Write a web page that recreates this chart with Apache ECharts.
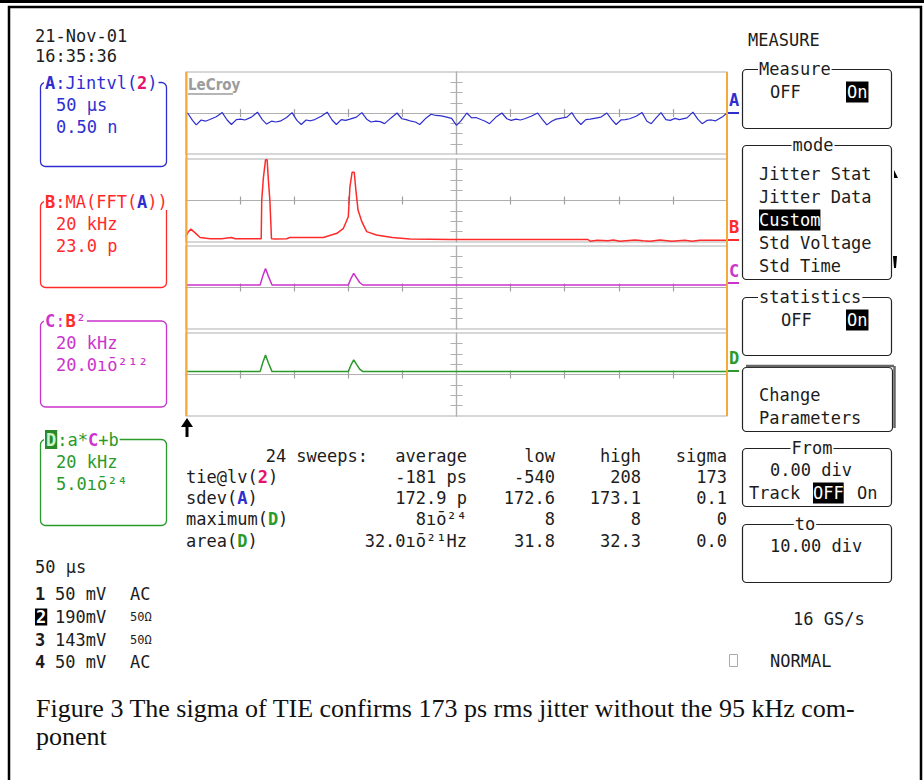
<!DOCTYPE html>
<html><head><meta charset="utf-8">
<script src="https://cdn.jsdelivr.net/npm/echarts@6/dist/echarts.min.js"></script>
<style>html,body{margin:0;padding:0;background:#fff}#c{width:924px;height:780px}</style>
</head><body><div id="c"></div>
<script>
// ---- trace data: [time in divisions from screen centre, amplitude in divisions from panel centre]
const traceA = [
[-5.00,-0.03],[-4.97,0.00],[-4.88,-0.18],[-4.81,-0.29],[-4.72,-0.17],[-4.64,-0.20],[-4.56,-0.16],[-4.44,-0.09],
[-4.33,0.01],[-4.24,-0.17],[-4.16,-0.28],[-4.07,-0.16],[-3.99,-0.15],[-3.91,-0.17],[-3.79,-0.10],
[-3.68,0.02],[-3.59,-0.16],[-3.51,-0.27],[-3.42,-0.20],[-3.34,-0.22],[-3.26,-0.20],[-3.14,-0.11],
[-3.04,0.01],[-2.95,-0.18],[-2.87,-0.28],[-2.78,-0.17],[-2.70,-0.19],[-2.62,-0.16],[-2.50,-0.08],
[-2.39,0.02],[-2.30,-0.17],[-2.22,-0.28],[-2.13,-0.16],[-2.05,-0.18],[-1.97,-0.15],[-1.85,-0.10],
[-1.75,0.01],[-1.66,-0.15],[-1.58,-0.22],[-1.49,-0.20],[-1.41,-0.21],[-1.33,-0.26],[-1.21,-0.12],
[-1.10,0.00],[-1.01,-0.14],[-0.93,-0.16],[-0.84,-0.20],[-0.76,-0.22],[-0.68,-0.28],[-0.56,-0.12],
[-0.47,-0.03],[-0.38,-0.06],[-0.28,-0.07],[-0.18,-0.10],[-0.09,-0.13],[0.00,-0.30],[0.09,-0.18],
[0.19,0.00],[0.28,-0.12],[0.36,-0.11],[0.45,-0.16],[0.53,-0.20],[0.61,-0.26],[0.73,-0.10],
[0.84,0.00],[0.93,-0.14],[1.01,-0.18],[1.10,-0.15],[1.18,-0.17],[1.26,-0.14],[1.38,-0.08],
[1.50,0.00],[1.59,-0.16],[1.67,-0.29],[1.76,-0.20],[1.84,-0.15],[1.92,-0.13],[2.04,-0.10],
[2.13,0.01],[2.22,-0.17],[2.30,-0.28],[2.39,-0.16],[2.47,-0.15],[2.55,-0.13],[2.67,-0.10],
[2.78,0.00],[2.87,-0.16],[2.95,-0.28],[3.04,-0.17],[3.12,-0.16],[3.20,-0.14],[3.32,-0.08],
[3.43,0.01],[3.52,-0.20],[3.60,-0.26],[3.69,-0.12],[3.78,0.01],[3.87,-0.16],[3.95,-0.18],[4.04,-0.13],[4.12,-0.16],[4.26,-0.12],
[4.37,0.02],[4.46,-0.15],[4.54,-0.26],[4.63,-0.18],[4.71,-0.17],[4.79,-0.19],[4.91,-0.10],[5.00,0.00]
];
const traceB = [
[-5.00,-0.87],[-4.96,-0.76],[-4.91,-0.69],[-4.83,-0.78],[-4.74,-0.89],[-4.55,-0.92],[-4.34,-0.92],[-4.16,-0.89],[-4.09,-0.92],
[-3.61,-0.92],[-3.60,0.01],[-3.57,0.54],[-3.53,0.98],[-3.50,0.98],[-3.48,0.54],[-3.45,0.01],[-3.42,-0.92],
[-3.35,-0.93],[-3.14,-0.92],[-3.08,-0.89],[-2.46,-0.89],[-2.21,-0.79],[-2.09,-0.67],[-2.00,-0.39],[-1.97,0.33],
[-1.93,0.68],[-1.89,0.68],[-1.86,0.25],[-1.82,-0.23],[-1.75,-0.51],[-1.66,-0.75],[-1.48,-0.83],[-1.19,-0.89],
[-0.86,-0.93],[-0.12,-0.94],[0.80,-0.94],[2.43,-0.94],[2.47,-0.98],[2.60,-0.96],[2.80,-0.97],[2.90,-0.95],
[3.02,-0.98],[3.30,-0.95],[3.45,-0.97],[3.58,-0.98],[3.76,-0.95],[3.98,-0.98],[4.22,-0.96],[4.35,-0.98],[4.50,-0.96],[5.00,-0.96]
];
const traceC = [
[-5.00,0.06],[-3.63,0.06],[-3.58,0.28],[-3.53,0.46],[-3.48,0.28],[-3.41,0.06],
[-2.00,0.06],[-1.95,0.22],[-1.90,0.34],[-1.85,0.24],[-1.79,0.12],[-1.73,0.06],[5.00,0.06]
];
const traceD = [
[-5.00,0.07],[-3.63,0.07],[-3.58,0.29],[-3.53,0.47],[-3.48,0.29],[-3.41,0.07],
[-2.00,0.07],[-1.95,0.23],[-1.90,0.35],[-1.85,0.25],[-1.79,0.13],[-1.73,0.07],[5.00,0.07]
];
const xTickDivs = [-4,-3,-2,-1,1,2,3,4];
const yTickDivs = [-0.75,-0.5,-0.25,0.25,0.5,0.75];

// ---- measurement table
const measHeader = ['24 sweeps:','average','low','high','sigma'];
const measParam = ['tie@lv','sdev','maximum','area'];
const measSource = ['2','A','D','D'];
const measAverage = ['-181 ps','172.9 p','8ıō²⁴','32.0ıō²¹Hz'];
const measLow = ['-540','172.6','8','31.8'];
const measHigh = ['208','173.1','8','32.3'];
const measSigma = ['173','0.1','0','0.0'];

// ---- channel readouts
const chanNum = ['1','2','3','4'];
const chanScale = ['50 mV','190mV','143mV','50 mV'];
const chanCoupling = ['AC','50Ω','50Ω','AC'];

const BLUE='#2e2ed0', RED='#ff2a2a', MAG='#cc33cc', GREEN='#2a9a2a', PINK='#e8126e';
const GRAY='#b0b0b0', ORANGE='#f2aa3a', INK='#1c1c1c';
const MONO='"DejaVu Sans Mono", monospace';
const F='17px '+MONO, FB='bold 17px '+MONO;

const chart = echarts.init(document.getElementById('c'), null, {renderer:'svg'});

const panels = [
  {top:72, height:82, data:traceA, color:BLUE, width:1.2},
  {top:159, height:83, data:traceB, color:RED, width:1.5},
  {top:246, height:83, data:traceC, color:MAG, width:1.5},
  {top:333, height:83, data:traceD, color:GREEN, width:1.5}
];
const grid=[], xAxis=[], yAxis=[], series=[];
panels.forEach((p,i)=>{
  grid.push({left:186, width:541, top:p.top, height:p.height, show:true, borderColor:GRAY, borderWidth:1.2, backgroundColor:'rgba(0,0,0,0)'});
  ['bottom','top'].forEach((pos,k)=>{
    xAxis.push({gridIndex:i, type:'value', min:-5, max:5, interval:1, position:pos,
      axisLine:{show:true, onZero:true, onZeroAxisIndex:2*i+k, lineStyle:{color:GRAY, width:1.2}},
      axisTick:{show:true, inside:true, length:4, customValues:xTickDivs, lineStyle:{color:'#a0a0a0', width:1.2}},
      axisLabel:{show:false}, splitLine:{show:false}});
  });
  ['left','right'].forEach((pos,k)=>{
    yAxis.push({gridIndex:i, type:'value', min:-1, max:1, interval:0.25, position:pos,
      axisLine:{show:true, onZero:true, onZeroAxisIndex:2*i+k, lineStyle:{color:GRAY, width:1.2}},
      axisTick:{show:true, inside:true, length:6, customValues:yTickDivs, lineStyle:{color:GRAY, width:1}},
      axisLabel:{show:false}, splitLine:{show:false}});
  });
  series.push({type:'line', xAxisIndex:2*i, yAxisIndex:2*i, data:p.data, showSymbol:false, symbol:'none',
    lineStyle:{color:p.color, width:p.width}, itemStyle:{color:p.color}, z:5, animation:false});
});

function T(x,y,text,o){o=o||{};
  const st={text:text, font:o.font||F, fill:o.fill||INK, align:o.align||'left', verticalAlign:'middle',
    textAlign:o.align||'left', textVerticalAlign:'middle'};
  if(o.rich) st.rich=o.rich;
  if(o.bg){st.backgroundColor=o.bg; st.padding=o.pad||[1,1];}
  return {type:'text', x:x, y:y, z:30, silent:true, style:st};
}
function R(x,y,w,h,color,r,lw){return {type:'rect', z:20, silent:true, shape:{x:x,y:y,width:w,height:h,r:r==null?5:r}, style:{fill:'none', stroke:color, lineWidth:lw||1.2}};}
function L(x1,y1,x2,y2,color,lw){return {type:'line', z:22, silent:true, shape:{x1:x1,y1:y1,x2:x2,y2:y2}, style:{stroke:color, lineWidth:lw||1}};}
function P(points,color){return {type:'polygon', z:22, silent:true, shape:{points:points}, style:{fill:color}};}
const tok = (c,font,bg)=>{const t={font:font||FB, fill:c}; if(bg){t.backgroundColor=bg; t.padding=[1,1];} return t;};
const RICH = {a:tok(BLUE), b:tok(RED), c:tok(MAG), d:tok(GREEN), p:tok(PINK), di:tok('#c8f5c8',FB,'#2a8a2a'),
  inv:tok('#fff',FB,'#000'), n:tok(INK)};

const G = [];
// outer frame
G.push(L(0,1.5,924,1.5,'#000',3));
G.push({type:'rect', z:20, silent:true, shape:{x:9,y:7,width:912,height:800}, style:{fill:'none', stroke:'#000', lineWidth:2.5}});
// orange graticule edges
G.push(L(186.5,72,186.5,416,ORANGE,2));
G.push(L(727,72,727,416,ORANGE,2));
// LeCroy logo
G.push(T(188,85,'LeCroy',{font:'bold 15px "DejaVu Sans Condensed", "DejaVu Sans", sans-serif', fill:'#9c9c9c'}));
G.push(L(188,94,233,94,'#9c9c9c',1.5));
// trace markers at right edge
[['A',BLUE,100,113],['B',RED,227,240],['C',MAG,271,283],['D',GREEN,358,371]].forEach(m=>{
  G.push(T(729,m[2],m[0],{font:FB, fill:m[1]}));
  G.push(L(728,m[3],739,m[3],m[1],2));
});
// trigger arrow
G.push(L(187,437,187,424,'#000',3));
G.push(P([[181,427],[193,427],[187,418]],'#000'));

// date / time
G.push(T(35,36,'21-Nov-01'));
G.push(T(35,56,'16:35:36'));

// left trace boxes
const boxes = [
  {y:82.5, h:84, color:BLUE, title:'{a|A}:Jintvl({p|2})', lines:['50 µs','0.50 n']},
  {y:201.5, h:86, color:RED, title:'{b|B}:MA(FFT({a|A}))', lines:['20 kHz','23.0 p']},
  {y:321, h:86, color:MAG, title:'{c|C}:{b|B}²', lines:['20 kHz','20.0ıō²¹²']},
  {y:439.5, h:86, color:GREEN, title:'{di|D}:a*{c|C}+b', lines:['20 kHz','5.0ıō²⁴']}
];
boxes.forEach(b=>{
  G.push(R(40.5,b.y,126,b.h,b.color,5,1.3));
  G.push(T(44,b.y,b.title,{fill:b.color, rich:RICH, bg:'#fff', pad:[0,1]}));
  b.lines.forEach((s,k)=>G.push(T(56,b.y+22+22*k,s,{fill:b.color})));
});

// bottom-left timebase and channels
G.push(T(35,567,'50 µs'));
const chanY=[594,617,640,662];
chanNum.forEach((n,i)=>{
  G.push(T(35,chanY[i],n,i===1?{font:FB, fill:'#fff', bg:'#000', pad:[0,1]}:{font:FB}));
  G.push(T(55,chanY[i],chanScale[i]));
  G.push(T(130,chanY[i],chanCoupling[i],chanCoupling[i]==='AC'?{}:{font:'12px '+MONO}));
});

// measurement table
const colRight=[368,467,555,641,727];
const rowY=[456,477,498,519,541];
measHeader.forEach((h,j)=>G.push(T(colRight[j],rowY[0],h,{align:'right'})));
const srcTok={'2':'p','A':'a','D':'d'};
measParam.forEach((p,i)=>{
  const y=rowY[i+1];
  G.push(T(186,y,p+'({'+srcTok[measSource[i]]+'|'+measSource[i]+'})',{rich:RICH}));
  G.push(T(colRight[1],y,measAverage[i],{align:'right'}));
  G.push(T(colRight[2],y,measLow[i],{align:'right'}));
  G.push(T(colRight[3],y,measHigh[i],{align:'right'}));
  G.push(T(colRight[4],y,measSigma[i],{align:'right'}));
});

// right-hand menu
G.push(T(748,40,'MEASURE'));
G.push(R(742.5,69.5,149,59,'#222',4,1.2));
G.push(T(758,69,'Measure',{bg:'#fff', pad:[0,1]}));
G.push(T(770,92,'OFF'));
G.push(T(846,92,'On',{fill:'#fff', bg:'#000', pad:[2,1]}));

G.push(R(742.5,145.5,149,134,'#222',4,1.2));
G.push(T(813,145,'mode',{align:'center', bg:'#fff', pad:[0,1]}));
['Jitter Stat','Jitter Data','Custom','Std Voltage','Std Time'].forEach((s,k)=>{
  G.push(T(759,174+23*k,s,k===2?{fill:'#fff', bg:'#000', pad:[2,0]}:{}));
});
G.push(P([[894,170],[894,178],[898,178]],'#000'));
G.push(P([[893,256],[897,256],[896,268],[894,268]],'#000'));

G.push(R(742.5,297.5,149,58,'#222',4,1.2));
G.push(T(758,297,'statistics',{bg:'#fff', pad:[0,1]}));
G.push(T(781,320,'OFF'));
G.push(T(846,320,'On',{fill:'#fff', bg:'#000', pad:[2,1]}));

G.push(R(742.5,367.5,150,64,'#222',4,1.2));
G.push(L(746,366,894,366,'#666',2.5));
G.push(L(894.5,366,894.5,428,'#666',2.5));
G.push(T(759,395,'Change'));
G.push(T(759,418,'Parameters'));

G.push(R(742.5,448.5,149,58,'#222',4,1.2));
G.push(T(812,448,'From',{align:'center', bg:'#fff', pad:[0,1]}));
G.push(T(770,470,'0.00 div'));
G.push(T(749,493,'Track'));
G.push(T(813,493,'OFF',{fill:'#fff', bg:'#000', pad:[2,0]}));
G.push(T(857,493,'On'));

G.push(R(742.5,524.5,149,58,'#222',4,1.2));
G.push(T(805,524,'to',{align:'center', bg:'#fff', pad:[0,1]}));
G.push(T(770,546,'10.00 div'));

G.push(T(793,619,'16 GS/s'));
G.push({type:'rect', z:20, silent:true, shape:{x:729.5,y:654.5,width:8,height:12}, style:{fill:'none', stroke:'#aaa', lineWidth:1}});
G.push(T(770,661,'NORMAL'));

// caption
const CAP='26px "Liberation Serif", "Times New Roman", serif';
G.push(T(36,708,'Figure 3 The sigma of TIE confirms 173 ps rms jitter without the 95 kHz com-',{font:CAP, fill:'#111'}));
G.push(T(36,736,'ponent',{font:CAP, fill:'#111'}));

chart.setOption({
  animation:false,
  backgroundColor:'#fff',
  grid:grid, xAxis:xAxis, yAxis:yAxis, series:series,
  graphic:{elements:G}
});
</script></body></html>
